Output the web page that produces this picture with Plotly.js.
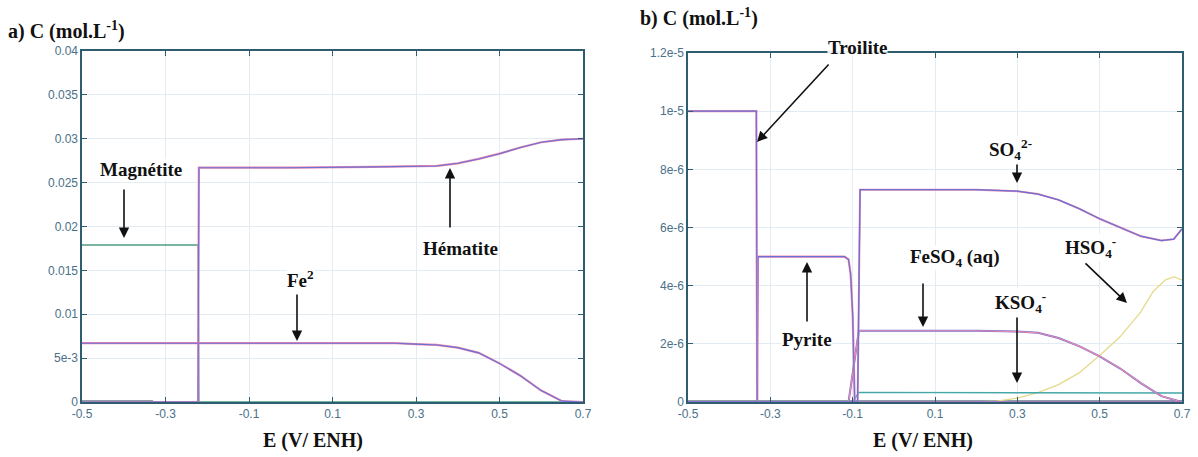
<!DOCTYPE html>
<html>
<head>
<meta charset="utf-8">
<script src="https://cdn.plot.ly/plotly-3.0.1.min.js"></script>
<style>html,body{margin:0;padding:0;background:#fff;}#chart{width:1198px;height:457px;}</style>
</head>
<body>
<div id="chart"></div>
<script>
// ---------- Panel a) data ----------
const E_magnetite = [-0.5, -0.222, -0.220, 0.7];
const C_magnetite = [0.0179, 0.0179, 0, 0];
const E_hematite = [-0.5, -0.222, -0.220, 0.0, 0.2, 0.35, 0.4, 0.45, 0.5, 0.55, 0.6, 0.65, 0.7];
const C_hematite = [0, 0, 0.0267, 0.0267, 0.0268, 0.0269, 0.0272, 0.0277, 0.0283, 0.0290, 0.0296, 0.0299, 0.0300];
const E_fe2 = [-0.5, 0.0, 0.25, 0.3, 0.35, 0.4, 0.45, 0.5, 0.55, 0.6, 0.65, 0.7];
const C_fe2 = [0.0067, 0.0067, 0.0067, 0.0066, 0.0065, 0.0062, 0.0056, 0.0044, 0.0030, 0.0013, 0.0001, 0.0];
const E_baseA = [-0.5, -0.33];
const C_baseA = [0, 0];

// ---------- Panel b) data ----------
const E_troilite = [-0.5, -0.334, -0.332, 0.7];
const C_troilite = [1.0e-5, 1.0e-5, 0, 0];
const E_pyrite = [-0.5, -0.332, -0.330, -0.12, -0.11, -0.105, -0.1, -0.097, -0.095, 0.7];
const C_pyrite = [0, 0, 5.0e-6, 5.0e-6, 4.9e-6, 4.4e-6, 3.0e-6, 1.0e-6, 0, 0];
const E_so4 = [-0.5, -0.088, -0.082, 0.0, 0.1, 0.2, 0.3, 0.35, 0.4, 0.45, 0.5, 0.55, 0.6, 0.65, 0.68, 0.7];
const C_so4 = [0, 0, 7.3e-6, 7.3e-6, 7.3e-6, 7.3e-6, 7.25e-6, 7.15e-6, 6.95e-6, 6.65e-6, 6.3e-6, 6.0e-6, 5.7e-6, 5.55e-6, 5.6e-6, 5.95e-6];
const E_feso4 = [-0.5, -0.11, -0.085, 0.0, 0.2, 0.3, 0.35, 0.4, 0.45, 0.5, 0.55, 0.6, 0.65, 0.7];
const C_feso4 = [0, 0, 2.45e-6, 2.45e-6, 2.45e-6, 2.42e-6, 2.38e-6, 2.2e-6, 1.92e-6, 1.57e-6, 1.15e-6, 0.65e-6, 0.2e-6, 0];
const E_hso4 = [-0.5, 0.2, 0.25, 0.3, 0.35, 0.4, 0.45, 0.5, 0.55, 0.6, 0.63, 0.66, 0.68, 0.7];
const C_hso4 = [0, 0, 0.03e-6, 0.13e-6, 0.32e-6, 0.6e-6, 1.0e-6, 1.6e-6, 2.25e-6, 3.1e-6, 3.8e-6, 4.2e-6, 4.3e-6, 4.2e-6];
const E_kso4 = [-0.5, -0.1, -0.085, 0.7];
const C_kso4 = [0, 0, 0.33e-6, 0.31e-6];
const E_baseB = [-0.5, 0.7];
const C_baseB = [0, 0];

// ---------- tick labels ----------
const xTickVals = [-0.5, -0.3, -0.1, 0.1, 0.3, 0.5, 0.7];
const xTickText = ["-0.5", "-0.3", "-0.1", "0.1", "0.3", "0.5", "0.7"];
const yTickValsA = [0, 0.005, 0.01, 0.015, 0.02, 0.025, 0.03, 0.035, 0.04];
const yTickTextA = ["0", "5e-3", "0.01", "0.015", "0.02", "0.025", "0.03", "0.035", "0.04"];
const yTickValsB = [0, 2e-6, 4e-6, 6e-6, 8e-6, 1e-5, 1.2e-5];
const yTickTextB = ["0", "2e-6", "4e-6", "6e-6", "8e-6", "1e-5", "1.2e-5"];

const BLUE = "#6c70d6", PINK = "#e98aae", GREEN = "#4f9c84", TEAL = "#45a7a8", YEL = "#e6d98a", DARK = "#1f3f4f";

function tr(x, y, color, width, xa, ya) {
  return {x: x, y: y, type: "scatter", mode: "lines", line: {color: color, width: width},
          xaxis: xa, yaxis: ya, hoverinfo: "skip", showlegend: false};
}

const data = [
  tr(E_baseA, C_baseA, DARK, 3, "x", "y"),
  tr(E_magnetite, C_magnetite, GREEN, 1.4, "x", "y"),
  tr(E_hematite, C_hematite, PINK, 2.2, "x", "y"),
  tr(E_hematite, C_hematite, BLUE, 1.1, "x", "y"),
  tr(E_fe2, C_fe2, PINK, 2.2, "x", "y"),
  tr(E_fe2, C_fe2, BLUE, 1.1, "x", "y"),

  tr(E_baseB, C_baseB, DARK, 3, "x2", "y2"),
  tr(E_hso4, C_hso4, YEL, 1.3, "x2", "y2"),
  tr(E_kso4, C_kso4, TEAL, 1.4, "x2", "y2"),
  tr(E_feso4, C_feso4, BLUE, 2.0, "x2", "y2"),
  tr(E_feso4, C_feso4, PINK, 1.2, "x2", "y2"),
  tr(E_pyrite, C_pyrite, PINK, 2.2, "x2", "y2"),
  tr(E_pyrite, C_pyrite, BLUE, 1.1, "x2", "y2"),
  tr(E_troilite, C_troilite, PINK, 2.2, "x2", "y2"),
  tr(E_troilite, C_troilite, BLUE, 1.1, "x2", "y2"),
  tr(E_so4, C_so4, PINK, 2.0, "x2", "y2"),
  tr(E_so4, C_so4, BLUE, 1.3, "x2", "y2")
];

const W = 1198, H = 457;
const px = v => v / W, py = v => 1 - v / H;

const axBase = {
  showline: true, linecolor: "#2e5d70", linewidth: 1.6, mirror: "ticks",
  ticks: "inside", ticklen: 5, tickcolor: "#2e5d70",
  showgrid: true, gridcolor: "#e3ecf2", gridwidth: 1, zeroline: false,
  tickfont: {family: "Liberation Sans, Arial, sans-serif", size: 12, color: "#4a7089"},
  fixedrange: true
};

const serif = "Liberation Serif, Times New Roman, serif";
const F = (s) => ({family: serif, size: s, color: "#111"});

function label(text, cx, cy, size) {
  return {xref: "paper", yref: "paper", x: px(cx), y: py(cy), text: text, showarrow: false,
          xanchor: "center", yanchor: "middle", font: F(size || 19), bgcolor: "rgba(255,255,255,0.9)", borderpad: 0};
}
function arrow(hx, hy, tx, ty) {
  return {xref: "paper", yref: "paper", x: px(hx), y: py(hy), ax: tx - hx, ay: ty - hy,
          text: "", showarrow: true, arrowhead: 2, arrowsize: 1.3, arrowwidth: 1.6, arrowcolor: "#111", standoff: 0};
}

const annotations = [
  {xref: "paper", yref: "paper", x: px(6), y: py(30), xanchor: "left", yanchor: "middle", showarrow: false,
   text: "<b>a) C (mol.L<sup>-1</sup>)</b>", font: F(20)},
  {xref: "paper", yref: "paper", x: px(638), y: py(18), xanchor: "left", yanchor: "middle", showarrow: false,
   text: "<b>b) C (mol.L<sup>-1</sup>)</b>", font: F(20)},
  {xref: "paper", yref: "paper", x: px(313), y: py(440), xanchor: "center", yanchor: "middle", showarrow: false,
   text: "<b>E (V/ ENH)</b>", font: F(20)},
  {xref: "paper", yref: "paper", x: px(923), y: py(440), xanchor: "center", yanchor: "middle", showarrow: false,
   text: "<b>E (V/ ENH)</b>", font: F(20)},

  label("<b>Magnétite</b>", 141, 170),
  arrow(124, 238, 124, 188),
  label("<b>Hématite</b>", 460, 248),
  arrow(450, 168, 450, 229),
  label("<b>Fe<sup>2</sup></b>", 300, 279),
  arrow(297, 341, 297, 293),

  label("<b>Troilite</b>", 857, 48),
  arrow(757, 142, 830, 63),
  label("<b>SO<sub>4</sub><sup>2-</sup></b>", 1010, 150),
  arrow(1017, 183, 1017, 163),
  label("<b>FeSO<sub>4</sub> (aq)</b>", 955, 258),
  arrow(923, 327, 923, 282),
  label("<b>KSO<sub>4</sub><sup>-</sup></b>", 1020, 302),
  arrow(1017, 383, 1017, 316),
  label("<b>HSO<sub>4</sub><sup>-</sup></b>", 1090, 247),
  arrow(1127, 303, 1084, 262),
  label("<b>Pyrite</b>", 807, 339),
  arrow(807, 262, 807, 323)
];

const layout = {
  width: W, height: H,
  margin: {l: 0, r: 0, t: 0, b: 0},
  paper_bgcolor: "#fff", plot_bgcolor: "#fff",
  showlegend: false,
  xaxis: Object.assign({}, axBase, {domain: [px(82), px(583)], range: [-0.5, 0.7], tickvals: xTickVals, ticktext: xTickText, anchor: "y"}),
  yaxis: Object.assign({}, axBase, {domain: [1 - 402 / H, 1 - 51 / H], range: [0, 0.04], tickvals: yTickValsA, ticktext: yTickTextA, anchor: "x"}),
  xaxis2: Object.assign({}, axBase, {domain: [px(688), px(1182)], range: [-0.5, 0.7], tickvals: xTickVals, ticktext: xTickText, anchor: "y2"}),
  yaxis2: Object.assign({}, axBase, {domain: [1 - 402 / H, 1 - 53 / H], range: [0, 1.2e-5], tickvals: yTickValsB, ticktext: yTickTextB, anchor: "x2"}),
  annotations: annotations
};

Plotly.newPlot("chart", data, layout, {displayModeBar: false, staticPlot: true});
</script>
</body>
</html>
